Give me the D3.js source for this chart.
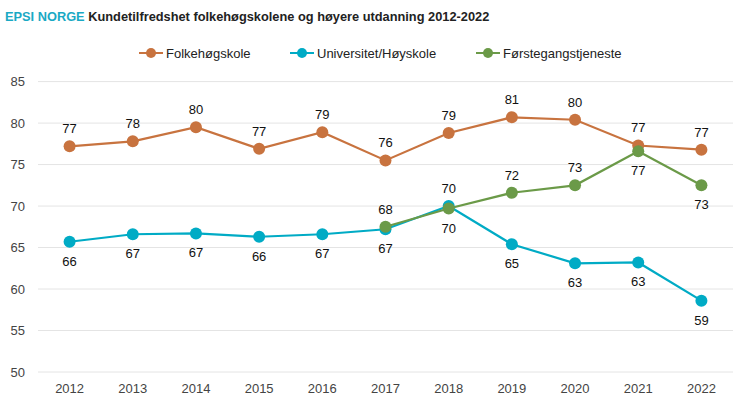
<!DOCTYPE html>
<html>
<head>
<meta charset="utf-8">
<script src="https://cdn.jsdelivr.net/npm/d3@7.9.0/dist/d3.min.js"></script>
<style>
  body { margin: 0; background: #fff; font-family: "Liberation Sans", Arial, sans-serif; }
  svg text { font-family: "Liberation Sans", Arial, sans-serif; }
</style>
</head>
<body>
<svg id="chart" width="746" height="419"></svg>
<script>
const years = [2012, 2013, 2014, 2015, 2016, 2017, 2018, 2019, 2020, 2021, 2022];
const folkehogskole = [77.2, 77.8, 79.5, 76.9, 78.9, 75.5, 78.8, 80.7, 80.4, 77.3, 76.8];
const universitet = [65.7, 66.6, 66.7, 66.3, 66.6, 67.2, 70.0, 65.4, 63.1, 63.2, 58.6];
const forstegang = [null, null, null, null, null, 67.5, 69.7, 71.6, 72.5, 76.6, 72.5];
const yTicks = [50, 55, 60, 65, 70, 75, 80, 85];

// label placement per point: -1 above, 1 below
const folkePos = years.map(() => -1);
const uniPos = [1, 1, 1, 1, 1, 1, -1, 1, 1, 1, 1];
const forstePos = [0, 0, 0, 0, 0, -1, 1, -1, -1, 1, 1];

const series = [
  { name: 'Folkehøgskole', values: folkehogskole, color: '#c8733f', pos: folkePos },
  { name: 'Universitet/Høyskole', values: universitet, color: '#00abc5', pos: uniPos },
  { name: 'Førstegangstjeneste', values: forstegang, color: '#6b9a48', pos: forstePos }
];

const svg = d3.select('#chart');
const margin = { left: 38, right: 13, top: 82, bottom: 47 };
const W = 746, H = 419;

const x = d3.scalePoint().domain(years).range([margin.left, W - margin.right]).padding(0.5);
const y = d3.scaleLinear().domain([50, 85]).range([372, 81.6]);

// title
const title = svg.append('text').attr('x', 5).attr('y', 21)
  .attr('font-size', 12.8).attr('font-weight', 'bold');
title.append('tspan').attr('fill', '#1aa9c4').text('EPSI NORGE ');
title.append('tspan').attr('fill', '#222').text('Kundetilfredshet folkehøgskolene og høyere utdanning 2012-2022');

// gridlines
svg.append('g').selectAll('line').data(yTicks).join('line')
  .attr('x1', margin.left).attr('x2', W - margin.right)
  .attr('y1', d => y(d)).attr('y2', d => y(d))
  .attr('stroke', '#e4e4e4').attr('stroke-width', 1);

// y axis labels
svg.append('g').selectAll('text').data(yTicks).join('text')
  .attr('x', 25).attr('y', d => y(d) + 4.5)
  .attr('text-anchor', 'end').attr('font-size', 13).attr('fill', '#444')
  .text(d => d);

// x axis labels
svg.append('g').selectAll('text').data(years).join('text')
  .attr('x', d => x(d)).attr('y', 393)
  .attr('text-anchor', 'middle').attr('font-size', 13).attr('fill', '#444')
  .text(d => d);

// legend
const legendX = [139, 290, 476];
const leg = svg.append('g').selectAll('g').data(series).join('g')
  .attr('transform', (d, i) => `translate(${legendX[i]},53)`);
leg.append('line').attr('x1', 0).attr('x2', 24).attr('stroke', d => d.color).attr('stroke-width', 2);
leg.append('circle').attr('cx', 12).attr('r', 5).attr('fill', d => d.color);
leg.append('text').attr('x', 27).attr('y', 4.5).attr('font-size', 13).attr('fill', '#222')
  .text(d => d.name);

const line = d3.line()
  .defined(d => d != null)
  .x((d, i) => x(years[i]))
  .y(d => y(d));

series.forEach(s => {
  const g = svg.append('g');
  g.append('path').attr('d', line(s.values))
    .attr('fill', 'none').attr('stroke', s.color).attr('stroke-width', 2.2);
  const pts = s.values.map((v, i) => ({ v, i })).filter(d => d.v != null);
  g.selectAll('circle').data(pts).join('circle')
    .attr('cx', d => x(years[d.i])).attr('cy', d => y(d.v))
    .attr('r', 6).attr('fill', s.color);
  s.labels = pts;
});

// data labels on top
series.forEach(s => {
  svg.append('g').selectAll('text').data(s.labels).join('text')
    .attr('x', d => x(years[d.i]))
    .attr('y', d => s.pos[d.i] < 0 ? y(d.v) - 13 : y(d.v) + 24)
    .attr('text-anchor', 'middle').attr('font-size', 13).attr('fill', '#111')
    .text(d => Math.round(d.v));
});
</script>
</body>
</html>
